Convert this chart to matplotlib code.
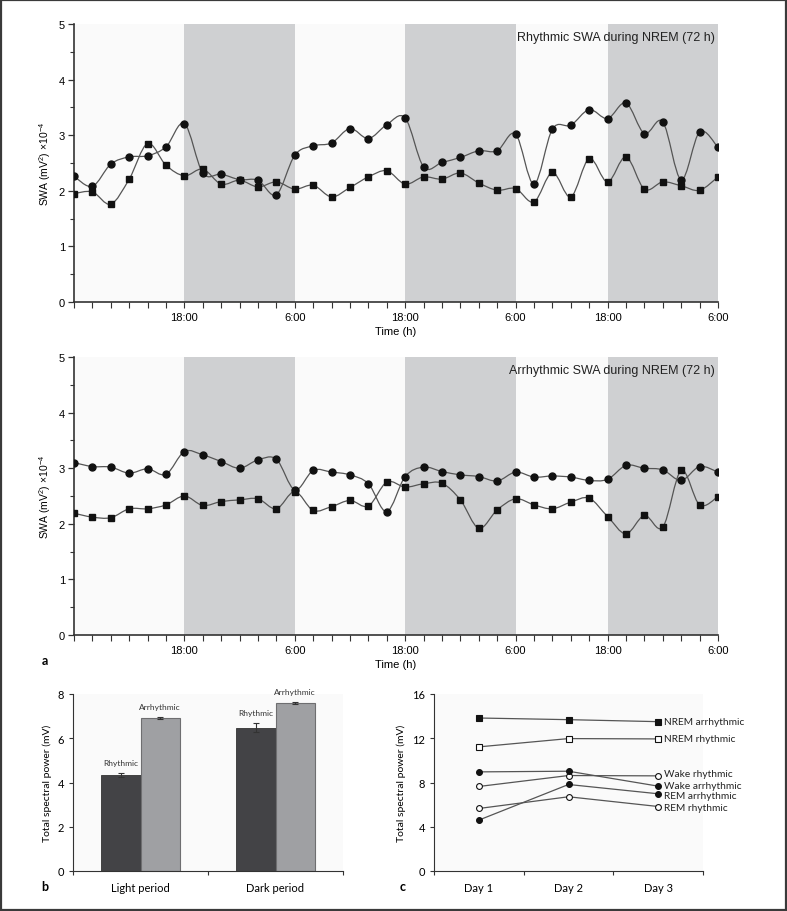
import numpy as np
import matplotlib
matplotlib.use("Agg")
import matplotlib.pyplot as plt
from matplotlib.path import Path
from matplotlib.patches import PathPatch, Rectangle
from matplotlib import font_manager

# ---------------- data ----------------
time_index = np.arange(36)
time_tick_pos = [6, 12, 18, 24, 29, 35]
time_tick_labels = ["18:00", "6:00", "18:00", "6:00", "18:00", "6:00"]
dark_periods = [(6, 12), (18, 24), (29, 35)]

rhythmic_circles = [2.26, 2.08, 2.48, 2.61, 2.63, 2.79, 3.21, 2.32, 2.30, 2.20, 2.19, 1.93,
                    2.64, 2.81, 2.86, 3.12, 2.94, 3.19, 3.31, 2.43, 2.51, 2.60, 2.72, 2.72,
                    3.02, 2.12, 3.11, 3.18, 3.46, 3.30, 3.58, 3.03, 3.24, 2.20, 3.06, 2.78]
rhythmic_squares = [1.95, 1.98, 1.76, 2.21, 2.85, 2.46, 2.27, 2.39, 2.12, 2.19, 2.07, 2.16,
                    2.03, 2.10, 1.89, 2.06, 2.25, 2.36, 2.12, 2.25, 2.21, 2.32, 2.14, 2.01,
                    2.04, 1.80, 2.33, 1.89, 2.58, 2.16, 2.61, 2.03, 2.16, 2.09, 2.01, 2.25]

arrhythmic_circles = [3.10, 3.03, 3.02, 2.91, 2.99, 2.89, 3.30, 3.24, 3.12, 3.00, 3.15, 3.16,
                      2.61, 2.96, 2.93, 2.88, 2.72, 2.22, 2.85, 3.02, 2.94, 2.88, 2.85, 2.77,
                      2.93, 2.84, 2.86, 2.84, 2.78, 2.80, 3.05, 3.00, 2.97, 2.78, 3.03, 2.93]
arrhythmic_squares = [2.19, 2.12, 2.11, 2.27, 2.27, 2.34, 2.50, 2.33, 2.40, 2.43, 2.45, 2.27,
                      2.58, 2.24, 2.31, 2.42, 2.32, 2.75, 2.66, 2.72, 2.73, 2.43, 1.92, 2.25,
                      2.45, 2.34, 2.27, 2.39, 2.46, 2.13, 1.82, 2.15, 1.94, 2.96, 2.34, 2.49]

bar_periods = ["Light period", "Dark period"]
bar_rhythmic = [4.35, 6.48]
bar_rhythmic_err = [0.08, 0.20]
bar_arrhythmic = [6.90, 7.59]
bar_arrhythmic_err = [0.05, 0.04]

days = ["Day 1", "Day 2", "Day 3"]
nrem_arrhythmic = [13.83, 13.68, 13.50]
nrem_rhythmic = [11.22, 11.97, 11.94]
wake_arrhythmic = [8.96, 9.02, 7.67]
wake_rhythmic = [7.64, 8.63, 8.60]
rem_arrhythmic = [4.60, 7.82, 6.98]
rem_rhythmic = [5.65, 6.71, 5.83]

# ---------------- style ----------------
names = {f.name for f in font_manager.fontManager.ttflist}
narrow = "Liberation Sans Narrow" if "Liberation Sans Narrow" in names else (
    "Liberation Sans" if "Liberation Sans" in names else "DejaVu Sans")
body = "Lato" if "Lato" in names else ("Open Sans" if "Open Sans" in names else "DejaVu Sans")
plt.rcParams["font.family"] = [narrow, "DejaVu Sans"]
plt.rcParams["mathtext.fontset"] = "custom"
plt.rcParams["mathtext.rm"] = narrow
BODY = [body, "DejaVu Sans"]

LINE = "#555555"
SPINE = "#333333"
SHADE = "#cfd0d2"
AXBG = "#fafafa"

W, H = 787, 912
fig = plt.figure(figsize=(W / 100, H / 100), dpi=100)
fig.patches.append(Rectangle((0.001, 0.001), 0.998, 0.998, transform=fig.transFigure,
                             fill=False, edgecolor="#3a3a3a", lw=1.6))


def ax_px(left, top, right, bottom):
    return fig.add_axes([left / W, 1 - bottom / H, (right - left) / W, (bottom - top) / H])


def smooth_path(x, y):
    verts = [(x[0], y[0])]
    codes = [Path.MOVETO]
    n = len(x)
    for i in range(n - 1):
        p0 = i - 1 if i > 0 else i
        p3 = i + 2 if i + 2 < n else i + 1
        c1 = (x[i] + (x[i + 1] - x[p0]) / 6, y[i] + (y[i + 1] - y[p0]) / 6)
        c2 = (x[i + 1] - (x[p3] - x[i]) / 6, y[i + 1] - (y[p3] - y[i]) / 6)
        verts += [c1, c2, (x[i + 1], y[i + 1])]
        codes += [Path.CURVE4] * 3
    return Path(verts, codes)


def swa_panel(ax, circles, squares, title):
    ax.set_facecolor(AXBG)
    for a, b in dark_periods:
        ax.axvspan(a, b, color=SHADE, lw=0, zorder=0)
    for series, mk, ms in ((circles, "o", 5.0), (squares, "s", 4.6)):
        ax.add_patch(PathPatch(smooth_path(time_index, np.asarray(series)), fill=False,
                               edgecolor=LINE, lw=0.9, zorder=2))
        ax.plot(time_index, series, ls="none", marker=mk, ms=ms, color="#111111", zorder=3)
    ax.set_xlim(0, 35)
    ax.set_ylim(0, 5)
    ax.set_xticks(time_index, minor=True)
    ax.set_xticks(time_tick_pos)
    ax.set_xticklabels(time_tick_labels, fontsize=8)
    ax.set_yticks(range(6))
    ax.set_yticks(np.arange(0, 5.01, 0.5), minor=True)
    ax.tick_params(axis="y", labelsize=8, length=4.5, width=0.9, color=SPINE, pad=2)
    ax.tick_params(axis="y", which="minor", length=3, width=0.8, color=SPINE)
    ax.tick_params(axis="x", which="both", length=4, width=0.8, color=SPINE, pad=3)
    for s in ("top", "right"):
        ax.spines[s].set_visible(False)
    for s in ("left", "bottom"):
        ax.spines[s].set_color(SPINE)
        ax.spines[s].set_linewidth(1.2)
    ax.set_ylabel("SWA (mV$^2$) ×10$^{-4}$", fontsize=7.5, labelpad=4)
    ax.set_xlabel("Time (h)", fontsize=8, labelpad=3)
    ax.text(0.995, 0.955, title, transform=ax.transAxes, ha="right", va="center",
            fontsize=9, color="#222222")


ax1 = ax_px(74, 25, 718, 303)
swa_panel(ax1, rhythmic_circles, rhythmic_squares, "Rhythmic SWA during NREM (72 h)")
ax2 = ax_px(74, 358, 718, 636)
swa_panel(ax2, arrhythmic_circles, arrhythmic_squares, "Arrhythmic SWA during NREM (72 h)")

# ---------------- bar chart ----------------
ax3 = ax_px(73, 695, 343, 872)
ax3.set_facecolor(AXBG)
centers = np.array([0.5, 1.5])
bw = 0.29
ax3.bar(centers - bw / 2, bar_rhythmic, bw, color="#434346", edgecolor="#333333", lw=0.6,
        yerr=bar_rhythmic_err, error_kw=dict(ecolor="#333333", elinewidth=0.8, capsize=2.5, capthick=0.8))
ax3.bar(centers + bw / 2, bar_arrhythmic, bw, color="#9fa0a3", edgecolor="#6e6e70", lw=0.8,
        yerr=bar_arrhythmic_err, error_kw=dict(ecolor="#333333", elinewidth=0.8, capsize=2.5, capthick=0.8))
for i in range(2):
    ax3.annotate("Rhythmic", (centers[i] - bw / 2, bar_rhythmic[i] + bar_rhythmic_err[i]),
                 xytext=(0, 5), textcoords="offset points", ha="center", va="bottom",
                 fontsize=6, family=BODY, color="#333333")
    ax3.annotate("Arrhythmic", (centers[i] + bw / 2, bar_arrhythmic[i] + bar_arrhythmic_err[i]),
                 xytext=(0, 5), textcoords="offset points", ha="center", va="bottom",
                 fontsize=6, family=BODY, color="#333333")
ax3.set_xlim(0, 2)
ax3.set_ylim(0, 8)
ax3.set_yticks([0, 2, 4, 6, 8])
ax3.set_xticks([0, 1, 2])
ax3.set_xticklabels([])
ax3.set_xticks(centers, minor=True)
ax3.set_xticklabels(bar_periods, minor=True, fontsize=8, family=BODY)
ax3.tick_params(axis="x", which="minor", length=0, pad=8)
ax3.tick_params(axis="x", which="major", length=3, color=SPINE)
ax3.tick_params(axis="y", length=3, color=SPINE, labelsize=8)
for lab in ax3.get_yticklabels():
    lab.set_family(BODY)
for s in ("top", "right"):
    ax3.spines[s].set_visible(False)
for s in ("left", "bottom"):
    ax3.spines[s].set_color(SPINE)
ax3.set_ylabel("Total spectral power (mV)", fontsize=7.5, family=BODY, labelpad=4)

# ---------------- line chart ----------------
ax4 = ax_px(434, 695, 703, 872)
ax4.set_facecolor(AXBG)
xd = np.arange(1, 4)
series = [
    (nrem_arrhythmic, "s", "#111111", "NREM arrhythmic", 0),
    (nrem_rhythmic, "s", "white", "NREM rhythmic", 0),
    (wake_rhythmic, "o", "white", "Wake rhythmic", 1.5),
    (wake_arrhythmic, "o", "#111111", "Wake arrhythmic", 0.5),
    (rem_arrhythmic, "o", "#111111", "REM arrhythmic", -1.5),
    (rem_rhythmic, "o", "white", "REM rhythmic", -1),
]
for vals, mk, fc, name, dy in series:
    ax4.plot(xd, vals, color=LINE, lw=0.9, marker=mk, ms=4.2, mfc=fc, mec="#111111", mew=0.8)
    ax4.annotate(name, (xd[-1], vals[-1]), xytext=(4.5, dy), textcoords="offset points",
                 ha="left", va="center", fontsize=7.3, family=BODY,
                 color="#222222", annotation_clip=False)
ax4.set_xlim(0.5, 3.5)
ax4.set_ylim(0, 16)
ax4.set_yticks([0, 4, 8, 12, 16])
ax4.set_xticks([0.5, 1.5, 2.5, 3.5])
ax4.set_xticklabels([])
ax4.set_xticks(xd, minor=True)
ax4.set_xticklabels(days, minor=True, fontsize=8, family=BODY)
ax4.tick_params(axis="x", which="minor", length=0, pad=8)
ax4.tick_params(axis="x", which="major", length=3, color=SPINE)
ax4.tick_params(axis="y", length=3, color=SPINE, labelsize=8)
for lab in ax4.get_yticklabels():
    lab.set_family(BODY)
for s in ("top", "right"):
    ax4.spines[s].set_visible(False)
for s in ("left", "bottom"):
    ax4.spines[s].set_color(SPINE)
ax4.set_ylabel("Total spectral power (mV)", fontsize=7.5, family=BODY, labelpad=4)

# panel letters
fig.text(45 / W, 1 - 661 / H, "a", fontsize=9, fontweight="bold", ha="center", va="center",
         family=BODY)
fig.text(45 / W, 1 - 887 / H, "b", fontsize=9, fontweight="bold", ha="center", va="center",
         family=BODY)
fig.text(403 / W, 1 - 887 / H, "c", fontsize=9, fontweight="bold", ha="center", va="center",
         family=BODY)

fig.savefig("out.png", dpi=100, facecolor="white")
